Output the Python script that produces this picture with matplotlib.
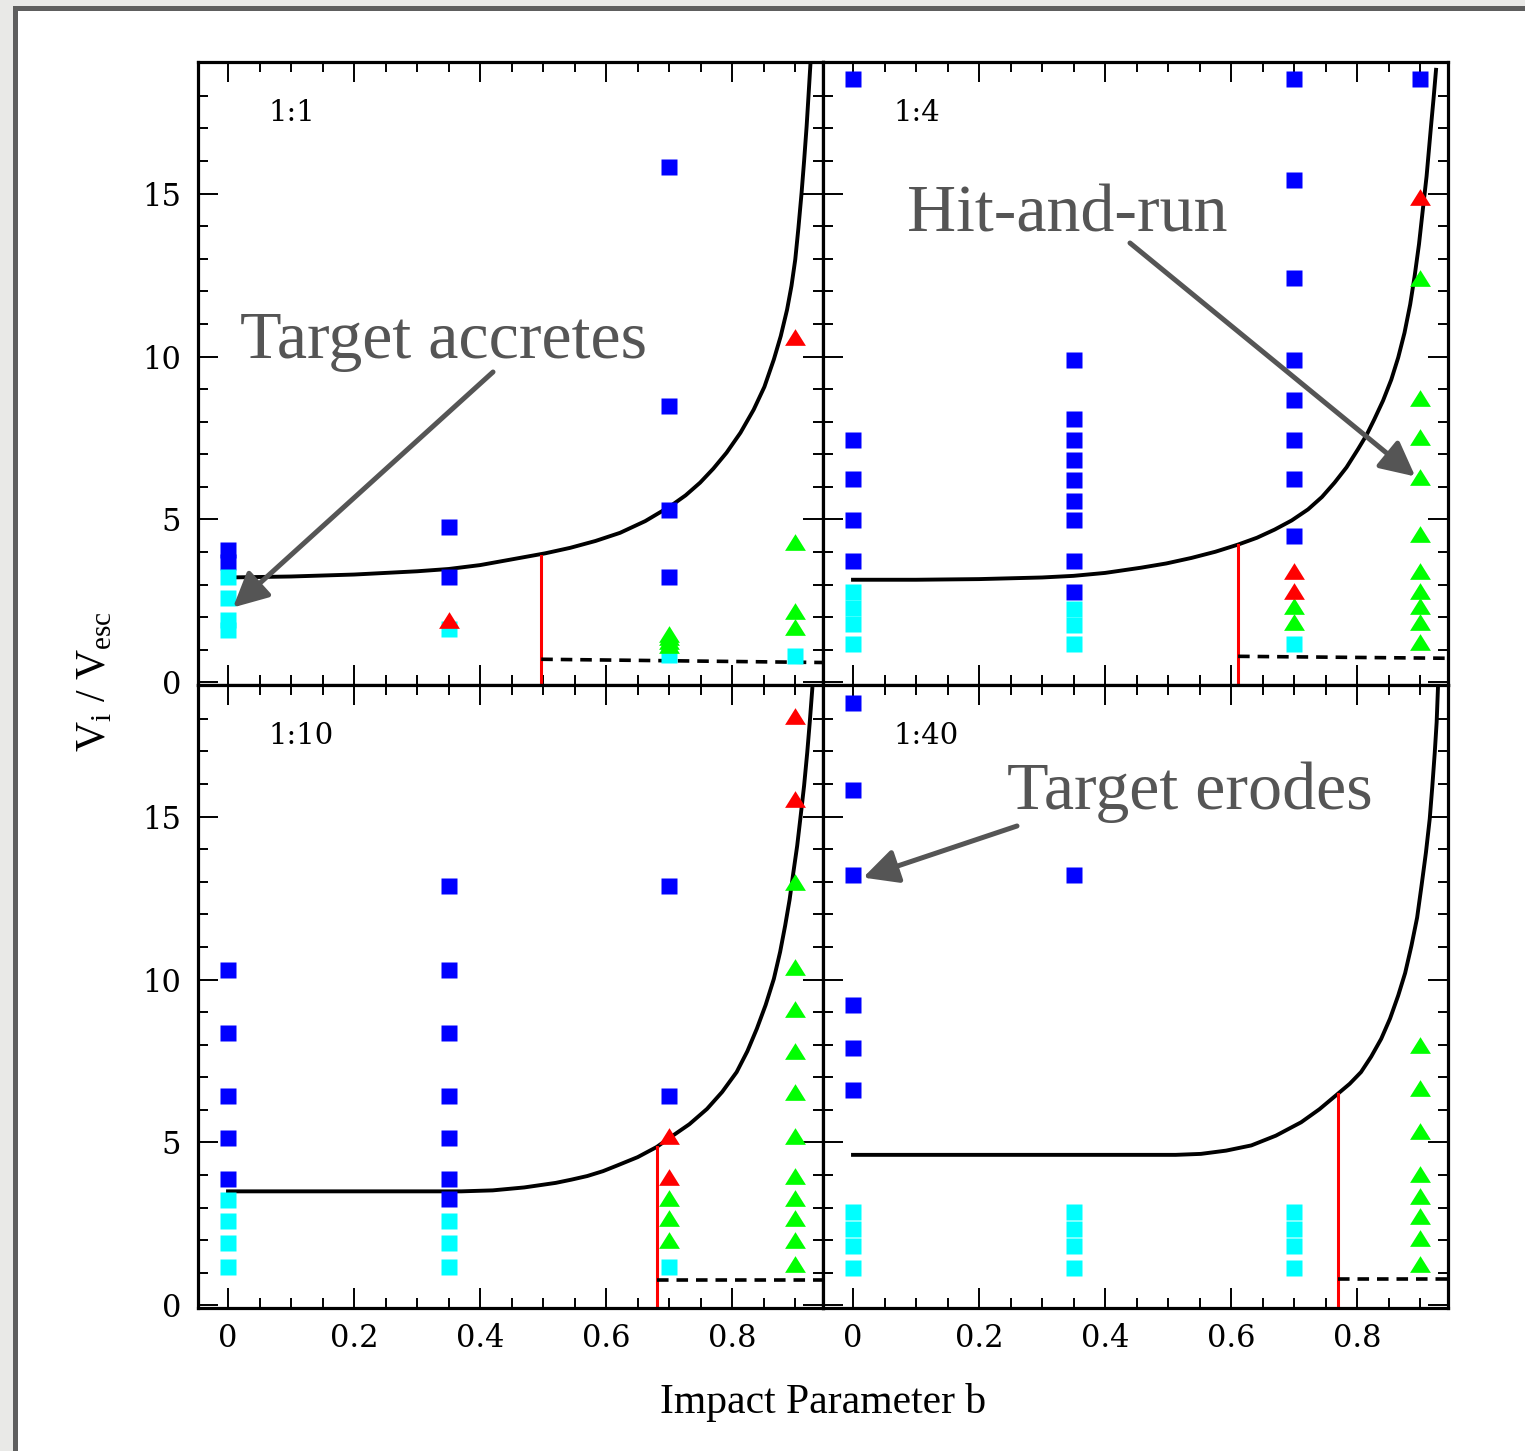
import matplotlib
matplotlib.use("Agg")
import matplotlib.pyplot as plt
from matplotlib.patches import Rectangle
from matplotlib.ticker import MultipleLocator, FixedLocator, FixedFormatter

plt.rcParams['mathtext.fontset'] = 'custom'
plt.rcParams['mathtext.rm'] = 'Liberation Serif'

# x tick positions / labels
b_ticks = [0.0, 0.2, 0.4, 0.6, 0.8]
b_tick_labels = ['0', '0.2', '0.4', '0.6', '0.8']

# ---- mass ratio 1:1 ----
erode_11_b = [0.0, 0.0, 0.35, 0.35, 0.7, 0.7, 0.7, 0.7]
erode_11_v = [4.05, 3.7, 4.78, 3.22, 15.83, 8.47, 5.3, 3.22]
accrete_11_b = [0.0, 0.0, 0.0, 0.0, 0.35, 0.7, 0.9]
accrete_11_v = [3.22, 2.58, 1.93, 1.6, 1.63, 0.85, 0.8]
hitrun_11_b = [0.7, 0.7, 0.7, 0.7, 0.9, 0.9, 0.9]
hitrun_11_v = [1.5, 1.38, 1.26, 1.14, 4.32, 2.18, 1.7]
hrerode_11_b = [0.35, 0.9]
hrerode_11_v = [1.9, 10.6]
curve_11_b = [0.0, 0.1, 0.2, 0.3, 0.35, 0.4, 0.463, 0.503, 0.543, 0.583, 0.622,
              0.662, 0.702, 0.726, 0.749, 0.77, 0.791, 0.813, 0.834, 0.851,
              0.866, 0.877, 0.887, 0.894, 0.900, 0.905, 0.910, 0.914, 0.918,
              0.921, 0.924]
curve_11_v = [3.22, 3.25, 3.31, 3.41, 3.48, 3.6, 3.82, 3.96, 4.13, 4.34, 4.59,
              4.95, 5.41, 5.74, 6.13, 6.56, 7.05, 7.66, 8.37, 9.07,
              9.91, 10.63, 11.44, 12.17, 12.98, 13.95, 15.02, 16.0, 17.06,
              18.0, 18.96]
cut_11_b = [0.497, 0.497]
cut_11_v = [-0.08, 3.88]
floor_11_b = [0.497, 0.944]
floor_11_v = [0.71, 0.61]

# ---- mass ratio 1:4 ----
erode_14_b = [0.0] * 5 + [0.35] * 9 + [0.7] * 8 + [0.9]
erode_14_v = [18.53, 7.45, 6.23, 4.97, 3.74,
              9.9, 8.07, 7.45, 6.84, 6.2, 5.58, 4.97, 3.74, 2.76,
              18.53, 15.43, 12.4, 9.9, 8.68, 7.45, 6.23, 4.48,
              18.53]
accrete_14_b = [0.0] * 4 + [0.35] * 3 + [0.7]
accrete_14_v = [2.76, 2.27, 1.78, 1.17, 2.24, 1.75, 1.17, 1.17]
hitrun_14_b = [0.7] * 2 + [0.9] * 10
hitrun_14_v = [2.33, 1.84,
               12.42, 8.74, 7.52, 6.29, 4.54, 3.43, 2.82, 2.33, 1.84, 1.23]
hrerode_14_b = [0.7, 0.7, 0.9]
hrerode_14_v = [3.43, 2.82, 14.9]
curve_14_b = [0.0, 0.1, 0.2, 0.3, 0.35, 0.4, 0.457, 0.497, 0.537, 0.575, 0.611,
              0.641, 0.669, 0.696, 0.722, 0.744, 0.764, 0.783, 0.801, 0.815,
              0.827, 0.841, 0.854, 0.865, 0.875, 0.884, 0.891, 0.898, 0.904,
              0.910, 0.917, 0.921, 0.925]
curve_14_v = [3.15, 3.15, 3.17, 3.22, 3.27, 3.36, 3.52, 3.65, 3.82, 4.01, 4.23,
              4.44, 4.69, 4.97, 5.31, 5.69, 6.13, 6.6, 7.15, 7.6,
              8.07, 8.65, 9.29, 9.97, 10.73, 11.6, 12.46, 13.45, 14.5,
              15.53, 17.06, 17.9, 18.8]
cut_14_b = [0.611, 0.611]
cut_14_v = [-0.08, 4.23]
floor_14_b = [0.611, 0.946]
floor_14_v = [0.8, 0.74]

# ---- mass ratio 1:10 ----
erode_110_b = [0.0] * 5 + [0.35] * 7 + [0.7] * 2
erode_110_v = [10.3, 8.37, 6.44, 5.15, 3.87,
               12.88, 10.3, 8.37, 6.44, 5.15, 3.87, 3.25,
               12.88, 6.44]
accrete_110_b = [0.0] * 4 + [0.35] * 3 + [0.7]
accrete_110_v = [3.22, 2.58, 1.93, 1.17, 2.58, 1.93, 1.17, 1.17]
hitrun_110_b = [0.7] * 3 + [0.9] * 11
hitrun_110_v = [3.3, 2.67, 2.0,
                12.99, 10.38, 9.1, 7.82, 6.54, 5.21, 3.96, 3.31, 2.67, 2.0, 1.26]
hrerode_110_b = [0.7, 0.7, 0.9, 0.9]
hrerode_110_v = [5.2, 3.95, 18.1, 15.54]
curve_110_b = [0.0, 0.37, 0.42, 0.47, 0.52, 0.545, 0.57, 0.595, 0.617, 0.65,
               0.68, 0.702, 0.732, 0.76, 0.784, 0.807, 0.824, 0.839, 0.853,
               0.866, 0.876, 0.884, 0.891, 0.897, 0.903, 0.908, 0.914, 0.919,
               0.923, 0.927]
curve_110_v = [3.5, 3.5, 3.53, 3.62, 3.76, 3.86, 3.97, 4.12, 4.29, 4.55,
               4.86, 5.16, 5.56, 6.03, 6.55, 7.16, 7.8, 8.49, 9.22,
               10.02, 10.85, 11.66, 12.45, 13.29, 14.1, 14.93, 15.95, 16.97,
               17.9, 18.92]
cut_110_b = [0.68, 0.68]
cut_110_v = [-0.08, 4.86]
floor_110_b = [0.68, 0.944]
floor_110_v = [0.77, 0.77]

# ---- mass ratio 1:40 ----
erode_140_b = [0.0] * 6 + [0.35]
erode_140_v = [18.5, 15.83, 13.2, 9.23, 7.91, 6.6, 13.2]
accrete_140_b = [0.0] * 4 + [0.35] * 4 + [0.7] * 4
accrete_140_v = [2.88, 2.35, 1.82, 1.16] * 3
hitrun_140_b = [0.9] * 8
hitrun_140_v = [7.98, 6.66, 5.34, 4.02, 3.37, 2.73, 2.06, 1.26]
hrerode_140_b = []
hrerode_140_v = []
curve_140_b = [0.0, 0.473, 0.512, 0.552, 0.592, 0.632, 0.671, 0.711, 0.74,
               0.769, 0.788, 0.806, 0.822, 0.838, 0.852, 0.865, 0.876, 0.886,
               0.895, 0.902, 0.909, 0.915, 0.919, 0.923, 0.926, 0.928]
curve_140_v = [4.62, 4.62, 4.62, 4.65, 4.75, 4.91, 5.21, 5.62, 6.02,
               6.49, 6.8, 7.16, 7.63, 8.18, 8.8, 9.51, 10.2, 11.04,
               11.9, 12.88, 13.9, 14.93, 15.9, 16.97, 17.9, 18.92]
cut_140_b = [0.77, 0.77]
cut_140_v = [-0.08, 6.49]
floor_140_b = [0.77, 0.946]
floor_140_v = [0.82, 0.82]

TRI = [(0, 0.8), (-1, -0.8), (1, -0.8), (0, 0.8)]
W, H = 1525, 1451


def px_rect(fig, x0, y0, w, h, color):
    fig.add_artist(Rectangle((x0 / W, 1 - (y0 + h) / H), w / W, h / H,
                             transform=fig.transFigure, facecolor=color,
                             edgecolor='none', zorder=0))


def draw_panel(ax, label, curve, cut, floor, erode, accrete, hitrun, hrerode):
    ax.plot(curve[0], curve[1], color='black', lw=2.8, zorder=2,
            solid_joinstyle='round')
    ax.plot(cut[0], cut[1], color='#ff0000', lw=2.2, zorder=2)
    ax.plot(floor[0], floor[1], color='black', lw=2.6, dashes=(3.2, 2.2), zorder=2)
    ax.plot(erode[0], erode[1], ls='none', marker='s', ms=11.7,
            mfc='#0000ff', mec='none', zorder=3)
    ax.plot(accrete[0], accrete[1], ls='none', marker='s', ms=11.7,
            mfc='#00ffff', mec='none', zorder=3)
    ax.plot(hitrun[0], hitrun[1], ls='none', marker=TRI, ms=15,
            mfc='#00ff00', mec='none', zorder=4)
    ax.plot(hrerode[0], hrerode[1], ls='none', marker=TRI, ms=15,
            mfc='#ff0000', mec='none', zorder=4)
    ax.text(0.112, 0.918, label, transform=ax.transAxes, ha='left', va='center',
            fontsize=21, family='DejaVu Serif')

    ax.set_xlim(-0.0476, 0.944)
    ax.set_ylim(-0.08, 19.04)
    ax.xaxis.set_major_locator(FixedLocator(b_ticks))
    ax.xaxis.set_major_formatter(FixedFormatter(b_tick_labels))
    ax.xaxis.set_minor_locator(MultipleLocator(0.05))
    ax.yaxis.set_major_locator(MultipleLocator(5))
    ax.yaxis.set_minor_locator(MultipleLocator(1))
    ax.tick_params(which='both', direction='in', top=True, right=True,
                   width=1.4, labelsize=22)
    ax.tick_params(which='major', length=14.4)
    ax.tick_params(which='minor', length=7.2)
    ax.tick_params(axis='x', pad=11)
    ax.tick_params(axis='y', pad=12)
    for lab in ax.get_xticklabels() + ax.get_yticklabels():
        lab.set_family('DejaVu Serif')
    for sp in ax.spines.values():
        sp.set_linewidth(2.3)


fig, axes = plt.subplots(2, 2, figsize=(W / 100, H / 100), dpi=100,
                         sharex=True, sharey=True)
fig.subplots_adjust(left=198 / W, right=1448 / W, bottom=1 - 1308 / H,
                    top=1 - 62 / H, wspace=0, hspace=0)

# page frame
px_rect(fig, 0, 0, 13, H, '#e9e9e7')
px_rect(fig, 0, 0, W, 6, '#e9e9e7')
px_rect(fig, 13, 6, 5, H - 6, '#5e5e5e')
px_rect(fig, 13, 6, W - 13, 5, '#5e5e5e')

draw_panel(axes[0, 0], '1:1', (curve_11_b, curve_11_v), (cut_11_b, cut_11_v),
           (floor_11_b, floor_11_v), (erode_11_b, erode_11_v),
           (accrete_11_b, accrete_11_v), (hitrun_11_b, hitrun_11_v),
           (hrerode_11_b, hrerode_11_v))
draw_panel(axes[0, 1], '1:4', (curve_14_b, curve_14_v), (cut_14_b, cut_14_v),
           (floor_14_b, floor_14_v), (erode_14_b, erode_14_v),
           (accrete_14_b, accrete_14_v), (hitrun_14_b, hitrun_14_v),
           (hrerode_14_b, hrerode_14_v))
draw_panel(axes[1, 0], '1:10', (curve_110_b, curve_110_v), (cut_110_b, cut_110_v),
           (floor_110_b, floor_110_v), (erode_110_b, erode_110_v),
           (accrete_110_b, accrete_110_v), (hitrun_110_b, hitrun_110_v),
           (hrerode_110_b, hrerode_110_v))
draw_panel(axes[1, 1], '1:40', (curve_140_b, curve_140_v), (cut_140_b, cut_140_v),
           (floor_140_b, floor_140_v), (erode_140_b, erode_140_v),
           (accrete_140_b, accrete_140_v), (hitrun_140_b, hitrun_140_v),
           (hrerode_140_b, hrerode_140_v))

# callouts
note_kw = dict(fontsize=49, family='Liberation Serif', color='#555555', va='baseline')
arrow_kw = dict(arrowstyle='-|>,head_length=21,head_width=10.5', color='#555555',
                lw=3.6, mutation_scale=1, shrinkA=0, shrinkB=0)
fig.text(240 / W, 1 - 358 / H, 'Target accretes', ha='left', **note_kw)
fig.text(907 / W, 1 - 232 / H, 'Hit-and-run', ha='left', **note_kw)
fig.text(1007 / W, 1 - 809 / H, 'Target erodes', ha='left', **note_kw)
axes[0, 0].annotate('', xy=(0.008, 2.3), xytext=(493 / W, 1 - 372 / H),
                    textcoords='figure fraction', arrowprops=arrow_kw,
                    annotation_clip=False, zorder=6)
axes[0, 1].annotate('', xy=(0.892, 6.32), xytext=(1130 / W, 1 - 243 / H),
                    textcoords='figure fraction', arrowprops=arrow_kw,
                    annotation_clip=False, zorder=6)
axes[1, 1].annotate('', xy=(0.016, 13.13), xytext=(1017 / W, 1 - 826 / H),
                    textcoords='figure fraction', arrowprops=arrow_kw,
                    annotation_clip=False, zorder=6)

fig.text(823 / W, 1 - 1403 / H, 'Impact Parameter b', ha='center', va='center',
         fontsize=30, family='Liberation Serif')
fig.text(95 / W, 1 - 682 / H, r'V$_{\rm i}$ / V$_{\rm esc}$', rotation=90,
         ha='center', va='center', fontsize=30, family='Liberation Serif')

fig.savefig('out.png', dpi=100)
